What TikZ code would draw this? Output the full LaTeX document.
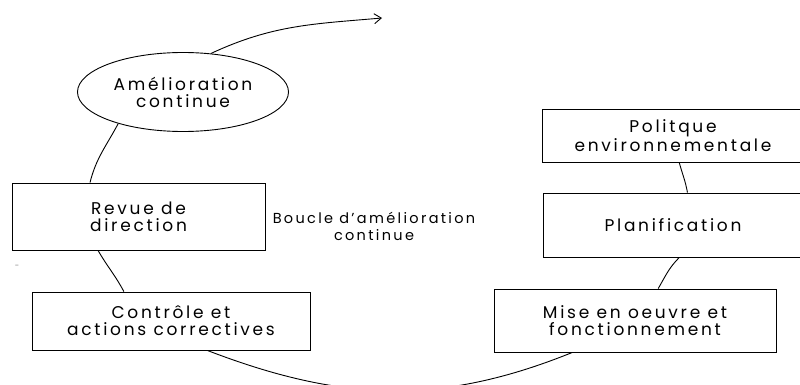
\documentclass[tikz,border=0pt]{standalone}
\usepackage{fontspec}
\setmainfont{Poppins}[LetterSpace=16]
\usetikzlibrary{shapes.geometric, arrows.meta}

\tikzset{
  bloc/.style = {draw, line width = 0.9pt, align = center, inner sep = 0pt,
                 font = \fontsize{17}{17}\selectfont},
  lien/.style = {line width = 0.9pt},
}

\begin{document}
\begin{tikzpicture}[x = 1pt, y = -1pt, >={Straight Barb[length=7pt, width=10pt]}]
        \clip (0,0) rectangle (800,385);
        %Amelioration continue
        \node [bloc, ellipse, minimum width = 211pt, minimum height = 79pt]
        (amel)at(183,92){Amélioration\\continue};
        %Revue de direction
        \node [bloc, minimum width = 253pt, minimum height = 67pt]
        (revue)at(138.5,216.5){Revue de\\direction};
        %Controle
        \node [bloc, minimum width = 278pt, minimum height = 58pt]
        (ctrl)at(171,321){Contrôle et\\actions correctives};
        %Mise en oeuvre
        \node [bloc, minimum width = 282pt, minimum height = 63pt]
        (mise)at(635,320.5){Mise en oeuvre et\\fonctionnement};
        %Planification
        \node [bloc, minimum width = 260pt, minimum height = 64pt]
        (plan)at(673,225){Planification};
        %Politique
        \node [bloc, minimum width = 262pt, minimum height = 53pt]
        (poli)at(673,135.5){Politque\\environnementale};
        %Boucle
        \node [align = center, font = \fontsize{14.5}{17}\selectfont]
        (boucle)at(374,226){Boucle d'amélioration\\continue};
        \node [text = gray, font = \fontsize{8}{8}\selectfont]
        (trait)at(17,267){-};
        \coordinate (fin) at (382,18);

        \draw [lien, ->](amel.54) to[out=25, in=185] (fin);
        \draw [lien](amel.206) to[out=242, in=76] (revue.145);
        \draw [lien](revue.220) to[out=300, in=118] (ctrl.148);
        \draw [lien](ctrl.-39) to[out=-21, in=202] (mise.207);
        \draw [lien](mise.54) to[out=60, in=225] (plan.-79);
        \draw [lien](poli.-77) to[out=-75, in=100] (plan.66);

    \end{tikzpicture}
\end{document}
